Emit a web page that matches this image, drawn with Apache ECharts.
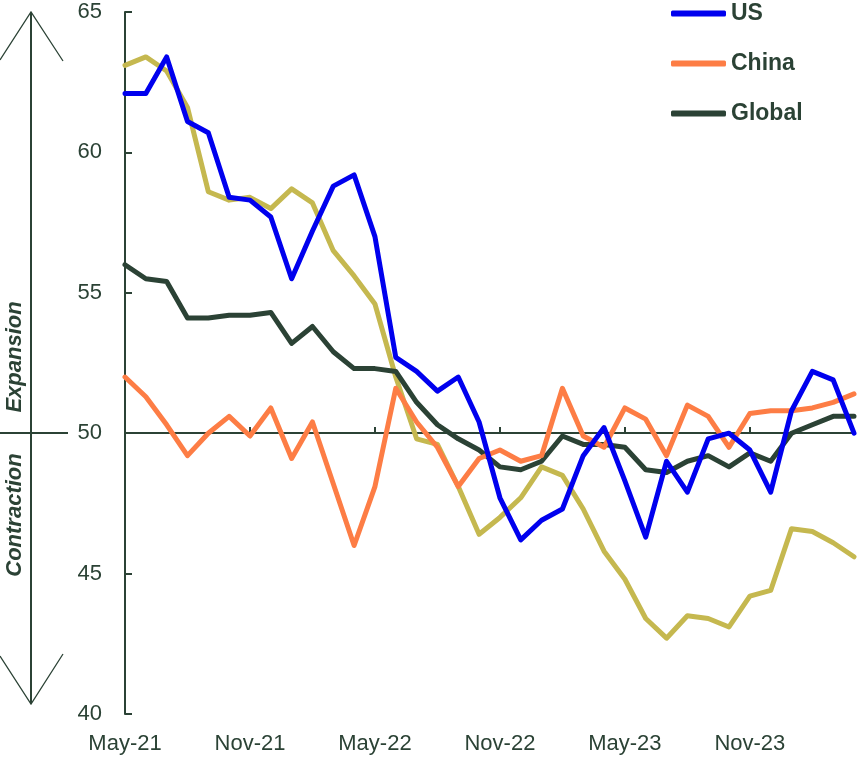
<!DOCTYPE html>
<html>
<head>
<meta charset="utf-8">
<script src="https://cdn.jsdelivr.net/npm/echarts@6/dist/echarts.min.js"></script>
<style>
  html, body { margin: 0; padding: 0; background: #fff; }
  #chart { width: 860px; height: 757px; }
</style>
</head>
<body>
<div id="chart"></div>
<script>
// monthly readings, May-21 .. Apr-24
const months = ['May-21','Jun-21','Jul-21','Aug-21','Sep-21','Oct-21','Nov-21','Dec-21',
  'Jan-22','Feb-22','Mar-22','Apr-22','May-22','Jun-22','Jul-22','Aug-22','Sep-22','Oct-22','Nov-22','Dec-22',
  'Jan-23','Feb-23','Mar-23','Apr-23','May-23','Jun-23','Jul-23','Aug-23','Sep-23','Oct-23','Nov-23','Dec-23',
  'Jan-24','Feb-24','Mar-24','Apr-24'];

const usData = [62.1,62.1,63.4,61.1,60.7,58.4,58.3,57.7,55.5,57.2,58.8,59.2,57.0,52.7,52.2,51.5,52.0,50.4,
  47.7,46.2,46.9,47.3,49.2,50.2,48.3,46.3,49.0,47.9,49.8,50.0,49.4,47.9,50.8,52.2,51.9,50.0];
const chinaData = [52.0,51.3,50.3,49.2,50.0,50.6,49.9,50.9,49.1,50.4,48.2,46.0,48.1,51.6,50.4,49.5,48.1,49.1,
  49.4,49.0,49.2,51.6,49.9,49.5,50.9,50.5,49.2,51.0,50.6,49.5,50.7,50.8,50.8,50.9,51.1,51.4];
const globalData = [56.0,55.5,55.4,54.1,54.1,54.2,54.2,54.3,53.2,53.8,52.9,52.3,52.3,52.2,51.1,50.3,49.8,49.4,
  48.8,48.7,49.0,49.9,49.6,49.6,49.5,48.7,48.6,49.0,49.2,48.8,49.3,49.0,50.0,50.3,50.6,50.6];
// unlabelled khaki series (no legend entry in the picture)
const otherData = [63.1,63.4,62.9,61.6,58.6,58.3,58.4,58.0,58.7,58.2,56.5,55.6,54.6,52.0,49.8,49.6,48.1,46.4,
  47.0,47.7,48.8,48.5,47.3,45.8,44.8,43.4,42.7,43.5,43.4,43.1,44.2,44.4,46.6,46.5,46.1,45.6];

const yTicks = [40, 45, 50, 55, 60, 65];

const ink = '#2b4235';
const font = 'Liberation Sans, Arial, sans-serif';

let myChart = echarts.init(document.getElementById('chart'));

function lineSeries(name, color, data) {
  return {
    name: name,
    type: 'line',
    data: data,
    symbol: 'none',
    color: color,
    lineStyle: { width: 5, color: color, cap: 'round', join: 'round' },
    emphasis: { disabled: true },
    animation: false
  };
}

let option = {
  backgroundColor: '#fff',
  animation: false,
  grid: { left: 125, right: 6, top: 12, bottom: 43 },
  legend: {
    data: ['US', 'China', 'Global'],
    orient: 'vertical',
    left: 671,
    top: 2,
    padding: 0,
    icon: 'roundRect',
    itemWidth: 55,
    itemHeight: 6,
    itemGap: 27,
    textStyle: { color: ink, fontSize: 23, fontWeight: 'bold', fontFamily: font, lineHeight: 23 }
  },
  xAxis: [
    {
      type: 'category',
      data: months,
      boundaryGap: false,
      axisLine: { show: false },
      axisTick: { show: false },
      axisLabel: {
        interval: 5,
        color: ink,
        fontSize: 22,
        fontFamily: font,
        margin: 19
      },
      splitLine: { show: false }
    },
    {
      // the line at 50 with its half-year ticks
      type: 'category',
      data: months,
      boundaryGap: false,
      position: 'bottom',
      offset: -281,
      axisLine: { show: true, lineStyle: { color: ink, width: 2 } },
      axisTick: { show: true, inside: true, interval: 5, length: 6, lineStyle: { color: ink, width: 2 } },
      axisLabel: { show: false },
      splitLine: { show: false }
    }
  ],
  yAxis: {
    type: 'value',
    min: yTicks[0],
    max: yTicks[yTicks.length - 1],
    interval: 5,
    axisLine: { show: true, lineStyle: { color: ink, width: 2 } },
    axisTick: { show: true, inside: true, length: 7, lineStyle: { color: ink, width: 2 } },
    axisLabel: { color: ink, fontSize: 22, fontFamily: font, margin: 23 },
    splitLine: { show: false }
  },
  series: [
    lineSeries('Other', '#c5b84f', otherData),
    lineSeries('Global', '#2b4235', globalData),
    lineSeries('China', '#fd7d45', chinaData),
    lineSeries('US', '#0000ee', usData)
  ],
  graphic: [
    // expansion / contraction arrow on the left
    { type: 'line', shape: { x1: 31, y1: 12, x2: 31, y2: 704 }, style: { stroke: ink, lineWidth: 2 } },
    { type: 'polyline', shape: { points: [[0, 60], [31, 12], [63, 61]] }, style: { stroke: ink, lineWidth: 1.3, fill: null } },
    { type: 'polyline', shape: { points: [[0, 656], [31, 704], [63, 654]] }, style: { stroke: ink, lineWidth: 1.3, fill: null } },
    { type: 'line', shape: { x1: 0, y1: 433, x2: 68, y2: 433 }, style: { stroke: ink, lineWidth: 2 } },
    {
      type: 'text', x: 15, y: 357, rotation: Math.PI / 2,
      style: { text: 'Expansion', fill: ink, font: 'italic bold 22px ' + font, align: 'center', verticalAlign: 'middle' }
    },
    {
      type: 'text', x: 15, y: 515, rotation: Math.PI / 2,
      style: { text: 'Contraction', fill: ink, font: 'italic bold 22px ' + font, align: 'center', verticalAlign: 'middle' }
    }
  ]
};

myChart.setOption(option, true);
</script>
</body>
</html>
